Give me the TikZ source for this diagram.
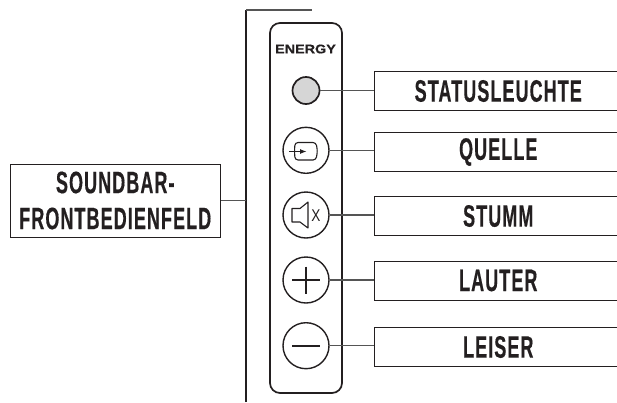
\documentclass[tikz,border=0pt]{standalone}
\usepackage{fontspec}
\usetikzlibrary{arrows.meta}
\setmainfont{Liberation Sans}
\newfontfamily\labelfont[FakeStretch=0.58,LetterSpace=3.5,FakeBold=0.4]{Liberation Sans Bold}
\newfontfamily\logofont[FakeStretch=1.15,FakeBold=0.4]{Liberation Sans Bold}
\newfontfamily\xfont[FakeStretch=0.8]{Liberation Sans}
\definecolor{inkc}{HTML}{231F20}
\definecolor{linec}{HTML}{555555}
\tikzset{
  x=1pt,y=-1pt,
  lbl/.style={draw=inkc,line width=1pt,inner sep=0pt,font=\labelfont\fontsize{31}{36}\selectfont,text=inkc,align=center,anchor=north west},
  rightbox/.style={lbl,minimum width=248.5pt,minimum height=39pt},
  btn/.style={circle,draw=inkc,line width=1.4pt,minimum size=46pt,inner sep=0pt},
  lead/.style={draw=linec,line width=1.2pt},
  icon/.style={draw=inkc,line width=1.1pt},
}
\begin{document}
\begin{tikzpicture}
\useasboundingbox (0,0) rectangle (617,402);
\clip (0,0) rectangle (617,402);
% frame bracket
\coordinate (bt) at (246,10);
\coordinate (be) at (312,10);
\coordinate (bb) at (246,402);
\coordinate (bm) at (246,200);
\draw[draw=inkc,line width=1.1pt] (bb) -- (bt);
\draw[lead] (bt) -- (be);
% panel
\node (panel) [draw=inkc,line width=1.7pt,rounded corners=10pt,minimum width=72pt,minimum height=370pt,inner sep=0pt] at (306,208) {};
\node (logo) at (305.5,49) [inner sep=0pt,font=\logofont\fontsize{12.5}{13}\selectfont,text=inkc] {ENERGY};
% buttons
\node (led) [circle,draw=inkc,line width=1.7pt,fill=black!16,minimum size=27pt,inner sep=0pt] at (306,90.5) {};
\node (src) [btn] at (306,150.3) {};
\node (mute) [btn] at (306,215) {};
\node (up) [btn] at (306,280) {};
\node (down) [btn] at (306,345.7) {};
% icons
\draw[icon,rounded corners=3pt] (295,142.5) -- (316,142.5) -- (317.5,151) -- (316,160) -- (295,160) -- (294.5,151) -- cycle;
\draw[draw=inkc,line width=1.4pt,-{Latex[length=7pt,width=5pt]}] (289,151.5) -- (307,151.5);
\draw[icon,line join=round] (292,208.5) -- (300,208.5) -- (308,202) -- (308,228) -- (300,222) -- (292,222) -- cycle;
\node (x) at (316,215.5) [inner sep=0pt,font=\xfont\fontsize{17}{17}\selectfont,text=inkc] {X};
\draw[draw=inkc,line width=2.4pt] (292,280) -- (320,280) (306,266.5) -- (306,293.5);
\draw[draw=inkc,line width=2.4pt] (292,345.7) -- (320,345.7);
% labels
\node (lstatus) [rightbox] at (373.5,71) {STATUSLEUCHTE};
\node (lsrc) [rightbox] at (373.5,132) {QUELLE};
\node (lmute) [rightbox] at (373.5,196) {STUMM};
\node (lup) [rightbox] at (373.5,260.5) {LAUTER};
\node (ldown) [rightbox] at (373.5,327) {LEISER};
\node (lmain) [lbl,minimum width=210.5pt,minimum height=73pt] at (9.5,163.5) {SOUNDBAR-\\FRONTBEDIENFELD};
% leads
\draw[lead] (led.east) -- (led.east -| lstatus.west);
\draw[lead] (src.east) -- (src.east -| lsrc.west);
\draw[lead] (mute.east) -- (mute.east -| lmute.west);
\draw[lead] (up.east) -- (up.east -| lup.west);
\draw[lead] (down.east) -- (down.east -| ldown.west);
\draw[lead] (lmain.east) -- (lmain.east -| bm);
\end{tikzpicture}
\end{document}
